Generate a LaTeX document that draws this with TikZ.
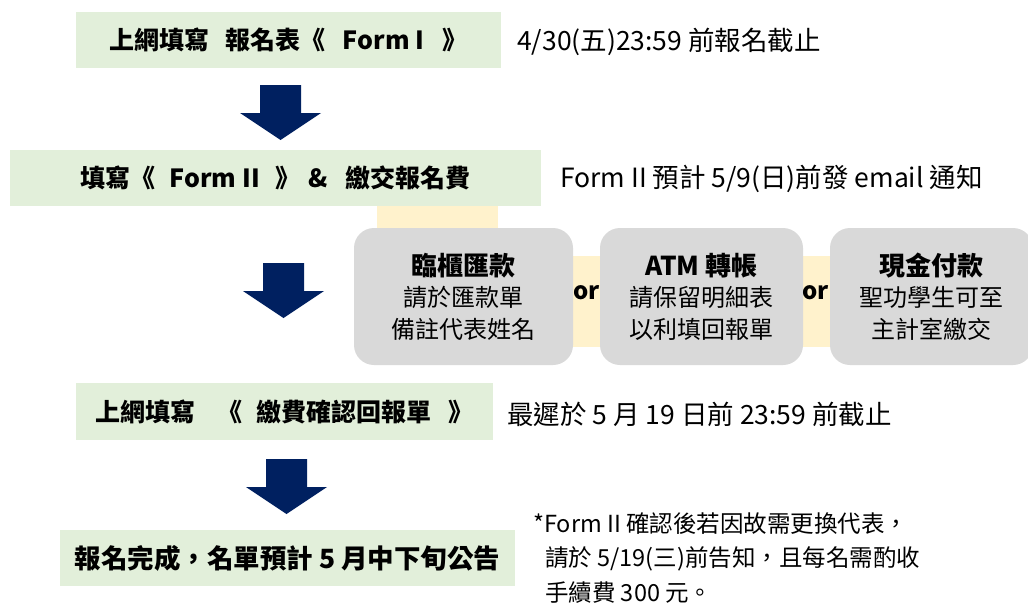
\documentclass[tikz,border=0pt]{standalone}
\usepackage{fontspec}
\setmainfont{Noto Sans CJK TC}
\definecolor{stagegreen}{HTML}{E2EFDA}
\definecolor{bandyellow}{HTML}{FFF2CC}
\definecolor{paygray}{HTML}{D9D9D9}
\definecolor{arrowblue}{HTML}{002060}
\newcommand{\wgap}[1]{\hspace{#1pt}}

\begin{document}
\begin{tikzpicture}[
    x=1pt, y=-1pt,
    stage/.style={fill=stagegreen, inner sep=0pt, font=\bfseries\fontsize{25}{30}\selectfont},
    remark/.style={anchor=west, inner sep=0pt, font=\fontsize{26.5}{30}\selectfont},
    payment/.style={fill=paygray, rounded corners=20pt, align=center, inner sep=0pt,
        minimum height=137pt, font=\fontsize{24}{31.5}\selectfont},
    ortext/.style={inner sep=0pt, font=\bfseries\fontsize{24}{30}\selectfont}
]
\useasboundingbox (0,0) rectangle (1028,605);

% yellow bands behind the payment boxes
\fill[bandyellow] (377,206) rectangle (498,260);
\fill[bandyellow] (560,256) rectangle (845,347);

\node[stage, minimum width=425pt, minimum height=56pt] (form1) at (288.5,39.5)
    {上網填寫\wgap{16}報名表《\wgap{17}Form I\wgap{18}》};
\node[remark] (form1date) at (517,42) {4/30(五)23:59 前報名截止};

\node[stage, minimum width=531pt, minimum height=56pt] (form2) at (275.5,178)
    {填寫《\wgap{14}Form II\wgap{16}》\wgap{8}\&\wgap{17}繳交報名費};
\node[remark] (form2date) at (560,179) {Form II 預計 5/9(日)前發 email 通知};

\node[payment, minimum width=219pt] (counter) at (463.5,296.5)
    {{\bfseries\fontsize{26}{31.5}\selectfont 臨櫃匯款}\\請於匯款單\\備註代表姓名};
\node[payment, minimum width=203pt] (atm) at (701.5,296.5)
    {{\bfseries\fontsize{26}{31.5}\selectfont ATM 轉帳}\\請保留明細表\\以利填回報單};
\node[payment, minimum width=203pt] (cash) at (931.5,296.5)
    {{\bfseries\fontsize{26}{31.5}\selectfont 現金付款}\\聖功學生可至\\主計室繳交};
\node[ortext] (or1) at (586.5,293) {or};
\node[ortext] (or2) at (815.5,293) {or};

\node[stage, minimum width=417pt, minimum height=57pt] (confirm) at (284.5,411.5)
    {上網填寫\wgap{22}《\wgap{14}繳費確認回報單\wgap{17}》};
\node[remark] (confirmdate) at (507,414) {最遲於 5 月 19 日前 23:59 前截止};

\node[stage, minimum width=455pt, minimum height=56pt, font=\bfseries\fontsize{26.5}{30}\selectfont] (done) at (287.5,558)
    {報名完成，名單預計 5 月中下旬公告};
\node[remark, align=left, font=\fontsize{23.5}{34.5}\selectfont] (changenote) at (533,558)
    {*Form II 確認後若因故需更換代表，\\\hspace*{12pt}請於 5/19(三)前告知，且每名需酌收\\\hspace*{12pt}手續費 300 元。};

% block arrows between the stages
\foreach \cx/\ty in {280.5/85, 283.5/263, 286.5/459}
    \fill[arrowblue] (\cx-20.5,\ty) -- (\cx+20.5,\ty) -- (\cx+20.5,\ty+28) -- (\cx+40.5,\ty+28)
        -- (\cx,\ty+55) -- (\cx-40.5,\ty+28) -- (\cx-20.5,\ty+28) -- cycle;

\end{tikzpicture}
\end{document}
